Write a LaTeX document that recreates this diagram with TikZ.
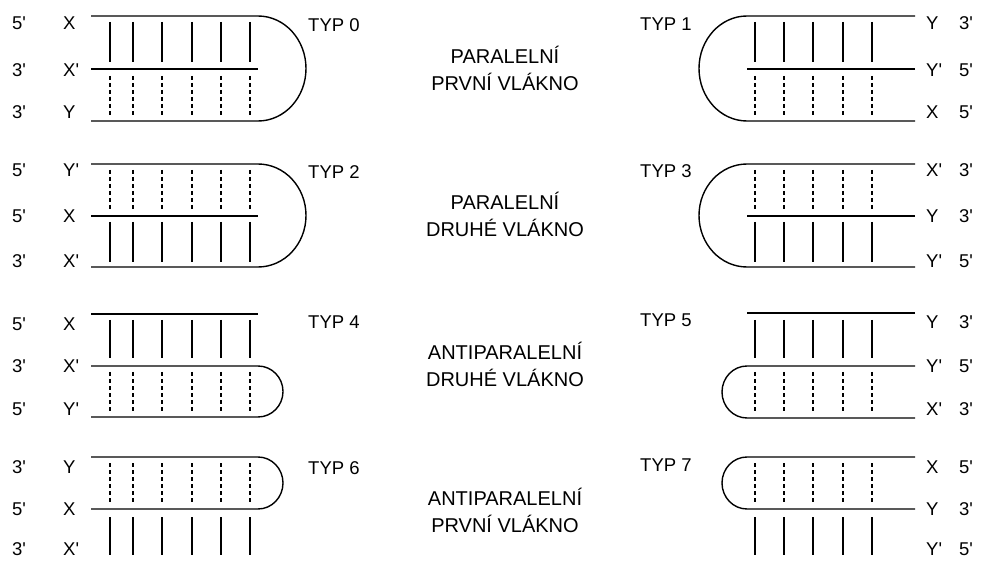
\documentclass[tikz,border=0pt]{standalone}
\usepackage{fontspec}
\setmainfont{Liberation Sans}
\newcommand\pr{\textquotesingle}
\begin{document}
\begin{tikzpicture}[x=1pt,y=-1pt,
  strand/.style={line width=1.4pt},
  hb/.style={line width=1.4pt},
  hbd/.style={line width=1.4pt, dash pattern=on 4pt off 3pt},
  lab/.style={inner sep=0pt, anchor=west, font=\fontsize{18.5}{20}\selectfont},
  typ/.style={lab},
  midtext/.style={inner sep=0pt, align=center, font=\fontsize{20}{27}\selectfont}]
\useasboundingbox (0,0) rectangle (991,561);

% ---------- TYP 0 ----------
\coordinate (t0a) at (91,16);  \coordinate (t0b) at (258,16);
\coordinate (m0a) at (91,69);  \coordinate (m0b) at (258,69);
\coordinate (b0a) at (91,121);
\draw[strand] (t0a) -- (t0b) arc[start angle=-90,end angle=90,x radius=48,y radius=52.5] -- (b0a);
\draw[strand] (m0a) -- (m0b);
\foreach \x in {110,133,162,192,221,250}{
  \draw[hb] (\x,22) -- (\x,62);
  \draw[hbd] (\x,76) -- (\x,117);}
\node[lab] (p0a) at (12,23.5) {5\pr};
\node[lab] (p0b) at (12,70) {3\pr};
\node[lab] (p0c) at (12,112) {3\pr};
\node[lab] (s0a) at (63,23.5) {X};
\node[lab] (s0b) at (63,70) {X\pr};
\node[lab] (s0c) at (63,112) {Y};
\node[typ] (ty0) at (308,25) {TYP 0};

% ---------- TYP 1 ----------
\coordinate (t1a) at (915,16);  \coordinate (t1b) at (747,16);
\coordinate (m1a) at (915,69);  \coordinate (m1b) at (747,69);
\coordinate (b1a) at (915,121);
\draw[strand] (t1a) -- (t1b) arc[start angle=-90,end angle=-270,x radius=48,y radius=52.5] -- (b1a);
\draw[strand] (m1a) -- (m1b);
\foreach \x in {755,784,813,843,872}{
  \draw[hb] (\x,22) -- (\x,62);
  \draw[hbd] (\x,76) -- (\x,117);}
\node[lab] (s1a) at (926,23.5) {Y};
\node[lab] (s1b) at (926,70) {Y\pr};
\node[lab] (s1c) at (926,112) {X};
\node[lab] (p1a) at (959,23.5) {3\pr};
\node[lab] (p1b) at (959,70) {5\pr};
\node[lab] (p1c) at (959,112) {5\pr};
\node[typ] (ty1) at (640,24) {TYP 1};

\node[midtext] (c0) at (505,68) {PARALELNÍ\\PRVNÍ VLÁKNO};

% ---------- TYP 2 ----------
\coordinate (t2a) at (91,164);  \coordinate (t2b) at (258,164);
\coordinate (m2a) at (91,216);  \coordinate (m2b) at (258,216);
\coordinate (b2a) at (91,267);
\draw[strand] (t2a) -- (t2b) arc[start angle=-90,end angle=90,x radius=48,y radius=51.5] -- (b2a);
\draw[strand] (m2a) -- (m2b);
\foreach \x in {110,133,162,192,221,250}{
  \draw[hbd] (\x,170) -- (\x,210);
  \draw[hb] (\x,222) -- (\x,262);}
\node[lab] (p2a) at (12,170) {5\pr};
\node[lab] (p2b) at (12,216) {5\pr};
\node[lab] (p2c) at (12,261) {3\pr};
\node[lab] (s2a) at (63,170) {Y\pr};
\node[lab] (s2b) at (63,216) {X};
\node[lab] (s2c) at (63,261) {X\pr};
\node[typ] (ty2) at (308,172) {TYP 2};

% ---------- TYP 3 ----------
\coordinate (t3a) at (915,164);  \coordinate (t3b) at (747,164);
\coordinate (m3a) at (915,216);  \coordinate (m3b) at (747,216);
\coordinate (b3a) at (915,267);
\draw[strand] (t3a) -- (t3b) arc[start angle=-90,end angle=-270,x radius=48,y radius=51.5] -- (b3a);
\draw[strand] (m3a) -- (m3b);
\foreach \x in {755,784,813,843,872}{
  \draw[hbd] (\x,170) -- (\x,210);
  \draw[hb] (\x,222) -- (\x,262);}
\node[lab] (s3a) at (926,170) {X\pr};
\node[lab] (s3b) at (926,216) {Y};
\node[lab] (s3c) at (926,261) {Y\pr};
\node[lab] (p3a) at (959,170) {3\pr};
\node[lab] (p3b) at (959,216) {3\pr};
\node[lab] (p3c) at (959,261) {5\pr};
\node[typ] (ty3) at (640,171) {TYP 3};

\node[midtext] (c1) at (505,214) {PARALELNÍ\\DRUHÉ VLÁKNO};

% ---------- TYP 4 ----------
\coordinate (t4a) at (91,314);  \coordinate (t4b) at (258,314);
\coordinate (m4a) at (91,366);  \coordinate (m4b) at (258,366);
\coordinate (b4a) at (91,417);
\draw[strand] (t4a) -- (t4b);
\draw[strand] (m4a) -- (m4b) arc[start angle=-90,end angle=90,x radius=25,y radius=25.5] -- (b4a);
\foreach \x in {110,133,162,192,221,250}{
  \draw[hb] (\x,320) -- (\x,358);
  \draw[hbd] (\x,372) -- (\x,412);}
\node[lab] (p4a) at (12,324) {5\pr};
\node[lab] (p4b) at (12,366) {3\pr};
\node[lab] (p4c) at (12,409) {5\pr};
\node[lab] (s4a) at (63,324) {X};
\node[lab] (s4b) at (63,366) {X\pr};
\node[lab] (s4c) at (63,409) {Y\pr};
\node[typ] (ty4) at (308,322) {TYP 4};

% ---------- TYP 5 ----------
\coordinate (t5a) at (915,313);  \coordinate (t5b) at (747,313);
\coordinate (m5a) at (915,366);  \coordinate (m5b) at (747,366);
\coordinate (b5a) at (915,418);
\draw[strand] (t5a) -- (t5b);
\draw[strand] (m5a) -- (m5b) arc[start angle=-90,end angle=-270,x radius=25,y radius=26] -- (b5a);
\foreach \x in {755,784,813,843,872}{
  \draw[hb] (\x,320) -- (\x,358);
  \draw[hbd] (\x,372) -- (\x,412);}
\node[lab] (s5a) at (926,322) {Y};
\node[lab] (s5b) at (926,366) {Y\pr};
\node[lab] (s5c) at (926,409) {X\pr};
\node[lab] (p5a) at (959,322) {3\pr};
\node[lab] (p5b) at (959,366) {5\pr};
\node[lab] (p5c) at (959,409) {3\pr};
\node[typ] (ty5) at (640,320) {TYP 5};

\node[midtext] (c2) at (505,364) {ANTIPARALELNÍ\\DRUHÉ VLÁKNO};

% ---------- TYP 6 ----------
\coordinate (t6a) at (91,457);  \coordinate (t6b) at (258,457);
\coordinate (m6a) at (91,509);
\draw[strand] (t6a) -- (t6b) arc[start angle=-90,end angle=90,x radius=25,y radius=26] -- (m6a);
\foreach \x in {110,133,162,192,221,250}{
  \draw[hbd] (\x,463) -- (\x,503);
  \draw[hb] (\x,517) -- (\x,555);}
\node[lab] (p6a) at (12,467) {3\pr};
\node[lab] (p6b) at (12,509) {5\pr};
\node[lab] (p6c) at (12,549) {3\pr};
\node[lab] (s6a) at (63,467) {Y};
\node[lab] (s6b) at (63,509) {X};
\node[lab] (s6c) at (63,549) {X\pr};
\node[typ] (ty6) at (308,468) {TYP 6};

% ---------- TYP 7 ----------
\coordinate (t7a) at (915,457);  \coordinate (t7b) at (747,457);
\coordinate (m7a) at (915,509);
\draw[strand] (t7a) -- (t7b) arc[start angle=-90,end angle=-270,x radius=25,y radius=26] -- (m7a);
\foreach \x in {755,784,813,843,872}{
  \draw[hbd] (\x,463) -- (\x,503);
  \draw[hb] (\x,517) -- (\x,555);}
\node[lab] (s7a) at (926,467) {X};
\node[lab] (s7b) at (926,509) {Y};
\node[lab] (s7c) at (926,549) {Y\pr};
\node[lab] (p7a) at (959,467) {5\pr};
\node[lab] (p7b) at (959,509) {3\pr};
\node[lab] (p7c) at (959,549) {5\pr};
\node[typ] (ty7) at (640,465) {TYP 7};

\node[midtext] (c3) at (505,510) {ANTIPARALELNÍ\\PRVNÍ VLÁKNO};
\end{tikzpicture}
\end{document}
